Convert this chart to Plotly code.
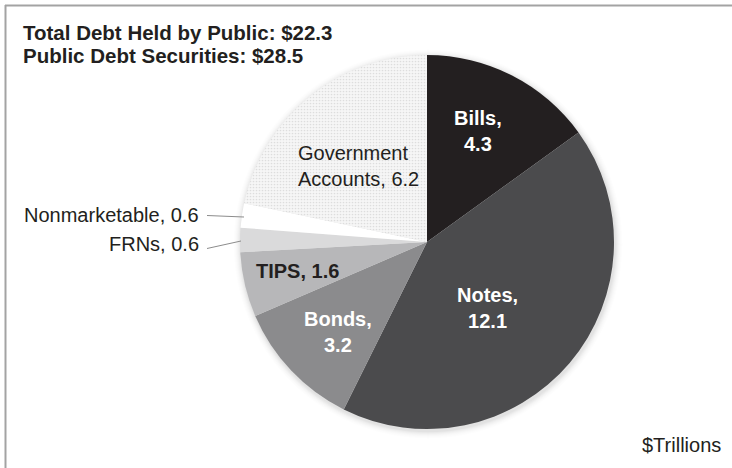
import plotly.graph_objects as go

# Composition of federal debt, $ trillions
categories = ["Bills", "Notes", "Bonds", "TIPS", "FRNs", "Nonmarketable", "Government Accounts"]
values = [4.3, 12.1, 3.2, 1.6, 0.6, 0.6, 6.2]
title_lines = ["Total Debt Held by Public: $22.3", "Public Debt Securities: $28.5"]
unit_label = "$Trillions"

slice_colors = ["#231f20", "#4b4b4d", "#8b8b8d", "#b7b7b9", "#dadadb", "#ffffff", "#f6f6f6"]

W, H = 732, 468
CX, CY, R = 427, 242, 187  # pie centre and radius in pixels


def px(x):
    return x / W


def py(y):
    return 1 - y / H


TEXT = "#231f20"
FONT = "Liberation Sans, Arial, Helvetica, sans-serif"

fig = go.Figure()

fig.add_trace(go.Pie(
    labels=categories,
    values=values,
    sort=False,
    direction="clockwise",
    rotation=0,
    textinfo="none",
    hoverinfo="skip",
    showlegend=False,
    marker=dict(
        colors=slice_colors,
        line=dict(color="#ffffff", width=0),
        pattern=dict(
            shape=["", "", "", "", "", "", "."],
            fgcolor="#c4c4c4",
            bgcolor=slice_colors,
            size=3,
            solidity=0.25,
            fillmode="overlay",
        ),
    ),
    domain=dict(x=[px(CX - R), px(CX + R)], y=[py(CY + R), py(CY - R)]),
))

shapes = []
# soft shadow behind the pie
for i, op in enumerate([0.025, 0.022, 0.018, 0.015, 0.012, 0.009, 0.006, 0.004]):
    rr = R + 1 + i
    shapes.append(dict(
        type="circle", xref="paper", yref="paper", layer="below",
        x0=px(CX + 1 - rr), x1=px(CX + 1 + rr),
        y0=py(CY + 2 + rr), y1=py(CY + 2 - rr),
        line=dict(width=0), fillcolor=f"rgba(0,0,0,{op})",
    ))

# frame lines (top and left)
shapes.append(dict(type="line", xref="paper", yref="paper",
                   x0=px(5), x1=1, y0=py(5.5), y1=py(5.5),
                   line=dict(color="#a3a3a3", width=2)))
shapes.append(dict(type="line", xref="paper", yref="paper",
                   x0=px(5.5), x1=px(5.5), y0=py(5), y1=0,
                   line=dict(color="#a3a3a3", width=2)))

# leader lines for the two thin slices
shapes.append(dict(type="line", xref="paper", yref="paper",
                   x0=px(207), y0=py(215.5), x1=px(244), y1=py(217),
                   line=dict(color="#8c8c8c", width=1)))
shapes.append(dict(type="line", xref="paper", yref="paper",
                   x0=px(207), y0=py(248.5), x1=px(241), y1=py(241),
                   line=dict(color="#8c8c8c", width=1)))

v = dict(zip(categories, values))


def lab(name, sep=", "):
    shown = name.replace("Government ", "Government<br>")
    return f"{shown}{sep}{v[name]:.1f}"


annotations = [
    # title
    dict(text=f"<b>{title_lines[0]}</b>", x=px(21), y=py(33), xanchor="left", yanchor="middle",
         font=dict(size=20.5, color=TEXT)),
    dict(text=f"<b>{title_lines[1]}</b>", x=px(21), y=py(55), xanchor="left", yanchor="middle",
         font=dict(size=20.5, color=TEXT)),
    # inside slice labels
    dict(text=f"<b>{lab('Bills', ',<br>')}</b>", x=px(478), y=py(131), xanchor="center", yanchor="middle",
         align="center", font=dict(size=20, color="#ffffff")),
    dict(text=f"<b>{lab('Notes', ',<br>')}</b>", x=px(487), y=py(308), xanchor="center", yanchor="middle",
         align="center", font=dict(size=20, color="#ffffff")),
    dict(text=f"<b>{lab('Bonds', ',<br>')}</b>", x=px(338), y=py(332), xanchor="center", yanchor="middle",
         align="center", font=dict(size=20, color="#ffffff")),
    dict(text=f"<b>{lab('TIPS')}</b>", x=px(297), y=py(271), xanchor="center", yanchor="middle",
         align="center", font=dict(size=20, color=TEXT)),
    dict(text=lab("Government Accounts"), x=px(296), y=py(166), xanchor="left", yanchor="middle",
         align="left", font=dict(size=20, color=TEXT)),
    # outside labels
    dict(text=lab("Nonmarketable"), x=px(201), y=py(215), xanchor="right", yanchor="middle",
         font=dict(size=20, color=TEXT)),
    dict(text=lab("FRNs"), x=px(201), y=py(244), xanchor="right", yanchor="middle",
         font=dict(size=20, color=TEXT)),
    # unit
    dict(text=unit_label, x=px(723), y=py(445), xanchor="right", yanchor="middle",
         font=dict(size=20, color=TEXT)),
]
for a in annotations:
    a.update(xref="paper", yref="paper", showarrow=False)

fig.update_layout(
    width=W, height=H,
    margin=dict(l=0, r=0, t=0, b=0),
    paper_bgcolor="#ffffff",
    plot_bgcolor="#ffffff",
    font=dict(family=FONT, color=TEXT),
    shapes=shapes,
    annotations=annotations,
)

fig.write_html("out.html")
